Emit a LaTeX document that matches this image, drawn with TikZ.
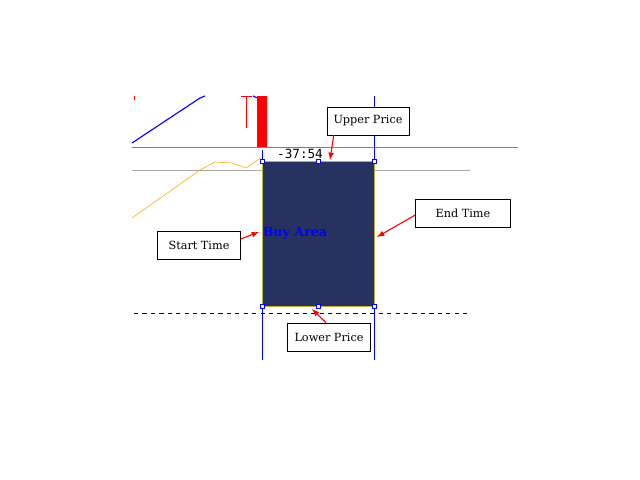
\documentclass[tikz,border=0pt]{standalone}
\usepackage{fontspec}
\setmainfont{DejaVu Serif}
\newfontfamily\monofont{DejaVu Sans Mono}
\definecolor{areafill}{RGB}{40,50,97}
\definecolor{orangeline}{RGB}{255,165,0}
\tikzset{
	callout/.style={draw, fill=white, minimum width=#1, minimum height=0.7cm, font=\fontsize{8}{9}\selectfont},
	pointer/.style={->, >=latex, red, thick},
	handle/.style={draw=blue, fill=white, minimum size=3pt, inner sep=0pt}
}
\begin{document}
\begin{tikzpicture}[x=0.025cm, y=-0.025cm]
	\useasboundingbox (0,0) rectangle (640,480);
	%\draw[help lines] (0,0) grid (640,480);
	
	\draw [gray] (132,147) -- (518,147);			% grey levels
	\draw [gray!70] (132,170) -- (470,170);
	\draw [dashed, blue!40!black] (134,313) -- (468,313);
	
	\draw [orangeline] (132,218) -- (200,170) -- (215,162) -- (232,163) -- (246,168) -- (262,157);
	\draw [blue, thick] (132,143) -- (200,98) -- (205,96);
	\draw [blue, thick] (253,96) -- (262,100);
	
	\draw [red] (134,96) -- (134,100);				% candles
	\draw [red] (241,96) -- (252,96);
	\draw [red] (246,96) -- (246,128);
	\fill [red] (257,96) rectangle (267,147);
	
	\draw [blue] (262,150) -- (262,360);			% time lines
	\draw [blue] (374,96) -- (374,360);
	
	\filldraw [fill=areafill, draw=yellow!70!black, thin] (262,161) rectangle (374,306);
	\node [handle] (hA) at (262,161) {};
	\node [handle] (hB) at (318,161) {};
	\node [handle] (hC) at (374,161) {};
	\node [handle] (hD) at (262,306) {};
	\node [handle] (hE) at (318,306) {};
	\node [handle] (hF) at (374,306) {};
	
	\node [font=\monofont\fontsize{9}{10}\selectfont] (timer) at (300,154) {-37:54};
	\node [blue, font=\bfseries\fontsize{9}{10}\selectfont] (buy) at (295,233) {Buy Area};
	
	\node [callout=2.05cm] (upper) at (368,121) {Upper Price};
	\node [callout=2.37cm] (endt) at (463,213) {End Time};
	\node [callout=2.07cm] (start) at (199,245) {Start Time};
	\node [callout=2.07cm] (lower) at (329,337) {Lower Price};
	
	\coordinate (pU) at (330,160);
	\coordinate (pE) at (377,237);
	\coordinate (pS) at (259,232);
	\coordinate (pL) at (312,309);
	\draw [pointer] (upper.south west) ++(7,0) -- (pU);
	\draw [pointer] (endt.west) ++(0,2) -- (pE);
	\draw [pointer] (start.east) ++(0,-6) -- (pS);
	\draw [pointer] (lower.north) ++(-3,0) -- (pL);
\end{tikzpicture}
\end{document}
